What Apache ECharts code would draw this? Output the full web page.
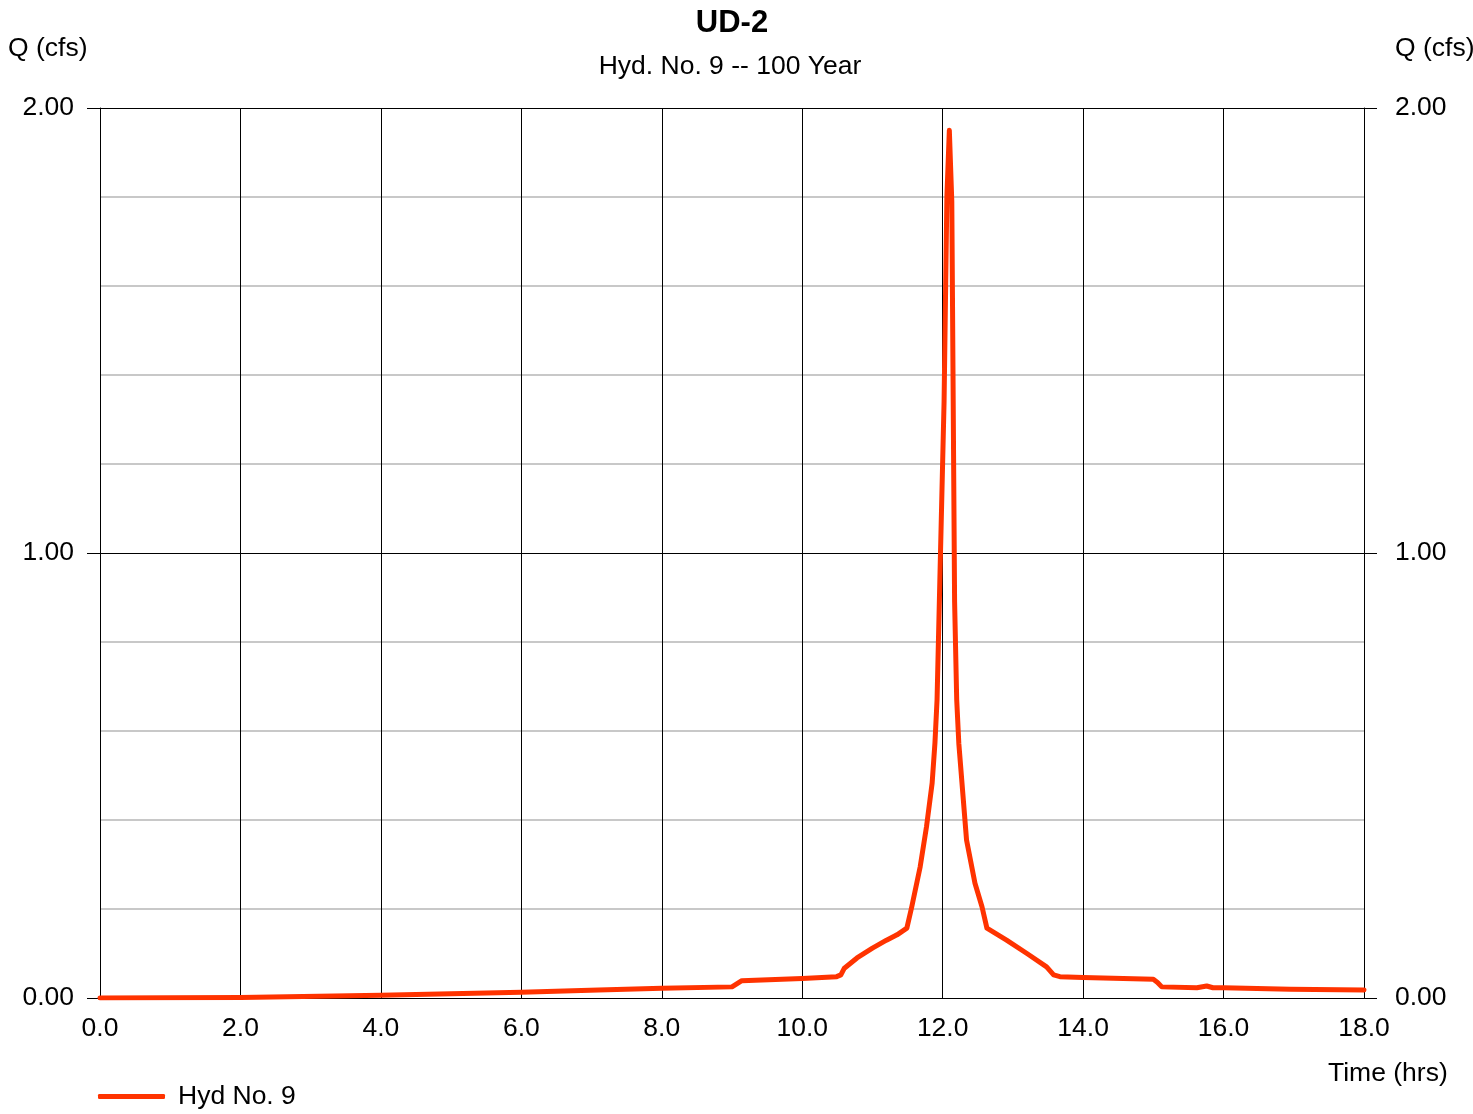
<!DOCTYPE html>
<html>
<head>
<meta charset="utf-8">
<script src="https://cdn.jsdelivr.net/npm/echarts@6/dist/echarts.min.js"></script>
<style>
html,body{margin:0;padding:0;background:#fff;}
#chart{width:1473px;height:1114px;}
</style>
</head>
<body>
<div id="chart"></div>
<script>
var titleText = 'UD-2';
var subtitleText = 'Hyd. No. 9 -- 100 Year';
var seriesName = 'Hyd No. 9';
var times = [0, 2, 4, 6, 7.1, 8, 9.0, 9.14, 10.0, 10.49, 10.55, 10.6, 10.78, 11.0, 11.2, 11.35, 11.49, 11.56, 11.68, 11.77, 11.85, 11.89, 11.92, 11.96, 12.02, 12.06, 12.095, 12.13, 12.15, 12.17, 12.2, 12.23, 12.34, 12.46, 12.56, 12.63, 12.91, 13.2, 13.48, 13.58, 13.67, 14.0, 15.0, 15.06, 15.12, 15.62, 15.76, 15.85, 16.0, 16.95, 18.0];
var flows = [0, 0.001, 0.006, 0.013, 0.018, 0.022, 0.025, 0.039, 0.044, 0.048, 0.052, 0.067, 0.09, 0.112, 0.13, 0.142, 0.157, 0.205, 0.295, 0.385, 0.483, 0.573, 0.67, 0.94, 1.34, 1.8, 1.95, 1.79, 1.34, 0.89, 0.67, 0.572, 0.355, 0.258, 0.205, 0.157, 0.13, 0.10, 0.07, 0.052, 0.048, 0.046, 0.042, 0.035, 0.025, 0.023, 0.027, 0.023, 0.023, 0.0195, 0.018];

var data = times.map(function(t, i){ return [t, flows[i]]; });
var font = '"Liberation Sans", Arial, sans-serif';
var fs = 26.5;
var chart = echarts.init(document.getElementById('chart'), null, {renderer:'canvas'});
var yAxisCommon = {
  type:'value', min:0, max:2, interval:1,
  axisLine:{show:true, lineStyle:{color:'#000', width:1}},
  axisTick:{show:true, length:13, lineStyle:{color:'#000', width:1}},
  minorTick:{show:false, splitNumber:5}
};
chart.setOption({
  animation:false,
  backgroundColor:'#fff',
  title:[
    {text:titleText, top:3, left:727, textAlign:'center', textStyle:{fontSize:31, fontWeight:'bold', color:'#000', fontFamily:font}},
    {text:subtitleText, top:48, left:725, textAlign:'center', textStyle:{fontSize:fs, fontWeight:'normal', color:'#000', fontFamily:font}}
  ],
  grid:{left:100, right:109, top:108, bottom:116, containLabel:false},
  legend:{
    left:98, top:1083, padding:0, itemWidth:67, itemHeight:5, itemGap:10,
    icon:'roundRect',
    textStyle:{fontSize:fs, color:'#000', fontFamily:font, padding:[0,0,0,8]},
    data:[seriesName]
  },
  xAxis:{
    type:'value', min:0, max:18, interval:2,
    axisLine:{show:true, onZero:false, lineStyle:{color:'#000', width:1}},
    axisTick:{show:false},
    axisLabel:{color:'#000', fontSize:fs, fontFamily:font, margin:17, formatter:function(v){return v.toFixed(1);}},
    splitLine:{show:true, lineStyle:{color:'#000', width:1}}
  },
  yAxis:[
    Object.assign({}, yAxisCommon, {
      position:'left',
      axisLabel:{color:'#000', fontSize:fs, fontFamily:font, margin:26, formatter:function(v){return v.toFixed(2);}},
      splitLine:{show:true, lineStyle:{color:'#000', width:1}},
      minorSplitLine:{show:true, lineStyle:{color:'#c8c8c8', width:2}}
    }),
    Object.assign({}, yAxisCommon, {
      position:'right',
      splitLine:{show:false},
      axisLabel:{color:'#000', fontSize:fs, fontFamily:font, margin:31, formatter:function(v){return v.toFixed(2);}}
    })
  ],
  graphic:[
    {type:'text', left:8, top:35, style:{text:'Q (cfs)', fontSize:fs, fontFamily:font, fill:'#000'}},
    {type:'text', left:1395, top:35, style:{text:'Q (cfs)', fontSize:fs, fontFamily:font, fill:'#000'}},
    {type:'text', left:1328, top:1060, style:{text:'Time (hrs)', fontSize:fs, fontFamily:font, fill:'#000'}}
  ],
  series:[{
    name:seriesName, type:'line', data:data, xAxisIndex:0, yAxisIndex:0,
    showSymbol:false, symbol:'none',
    lineStyle:{color:'#ff3300', width:5, cap:'round', join:'round'},
    itemStyle:{color:'#ff3300'},
    z:5
  }]
});
</script>
</body>
</html>
